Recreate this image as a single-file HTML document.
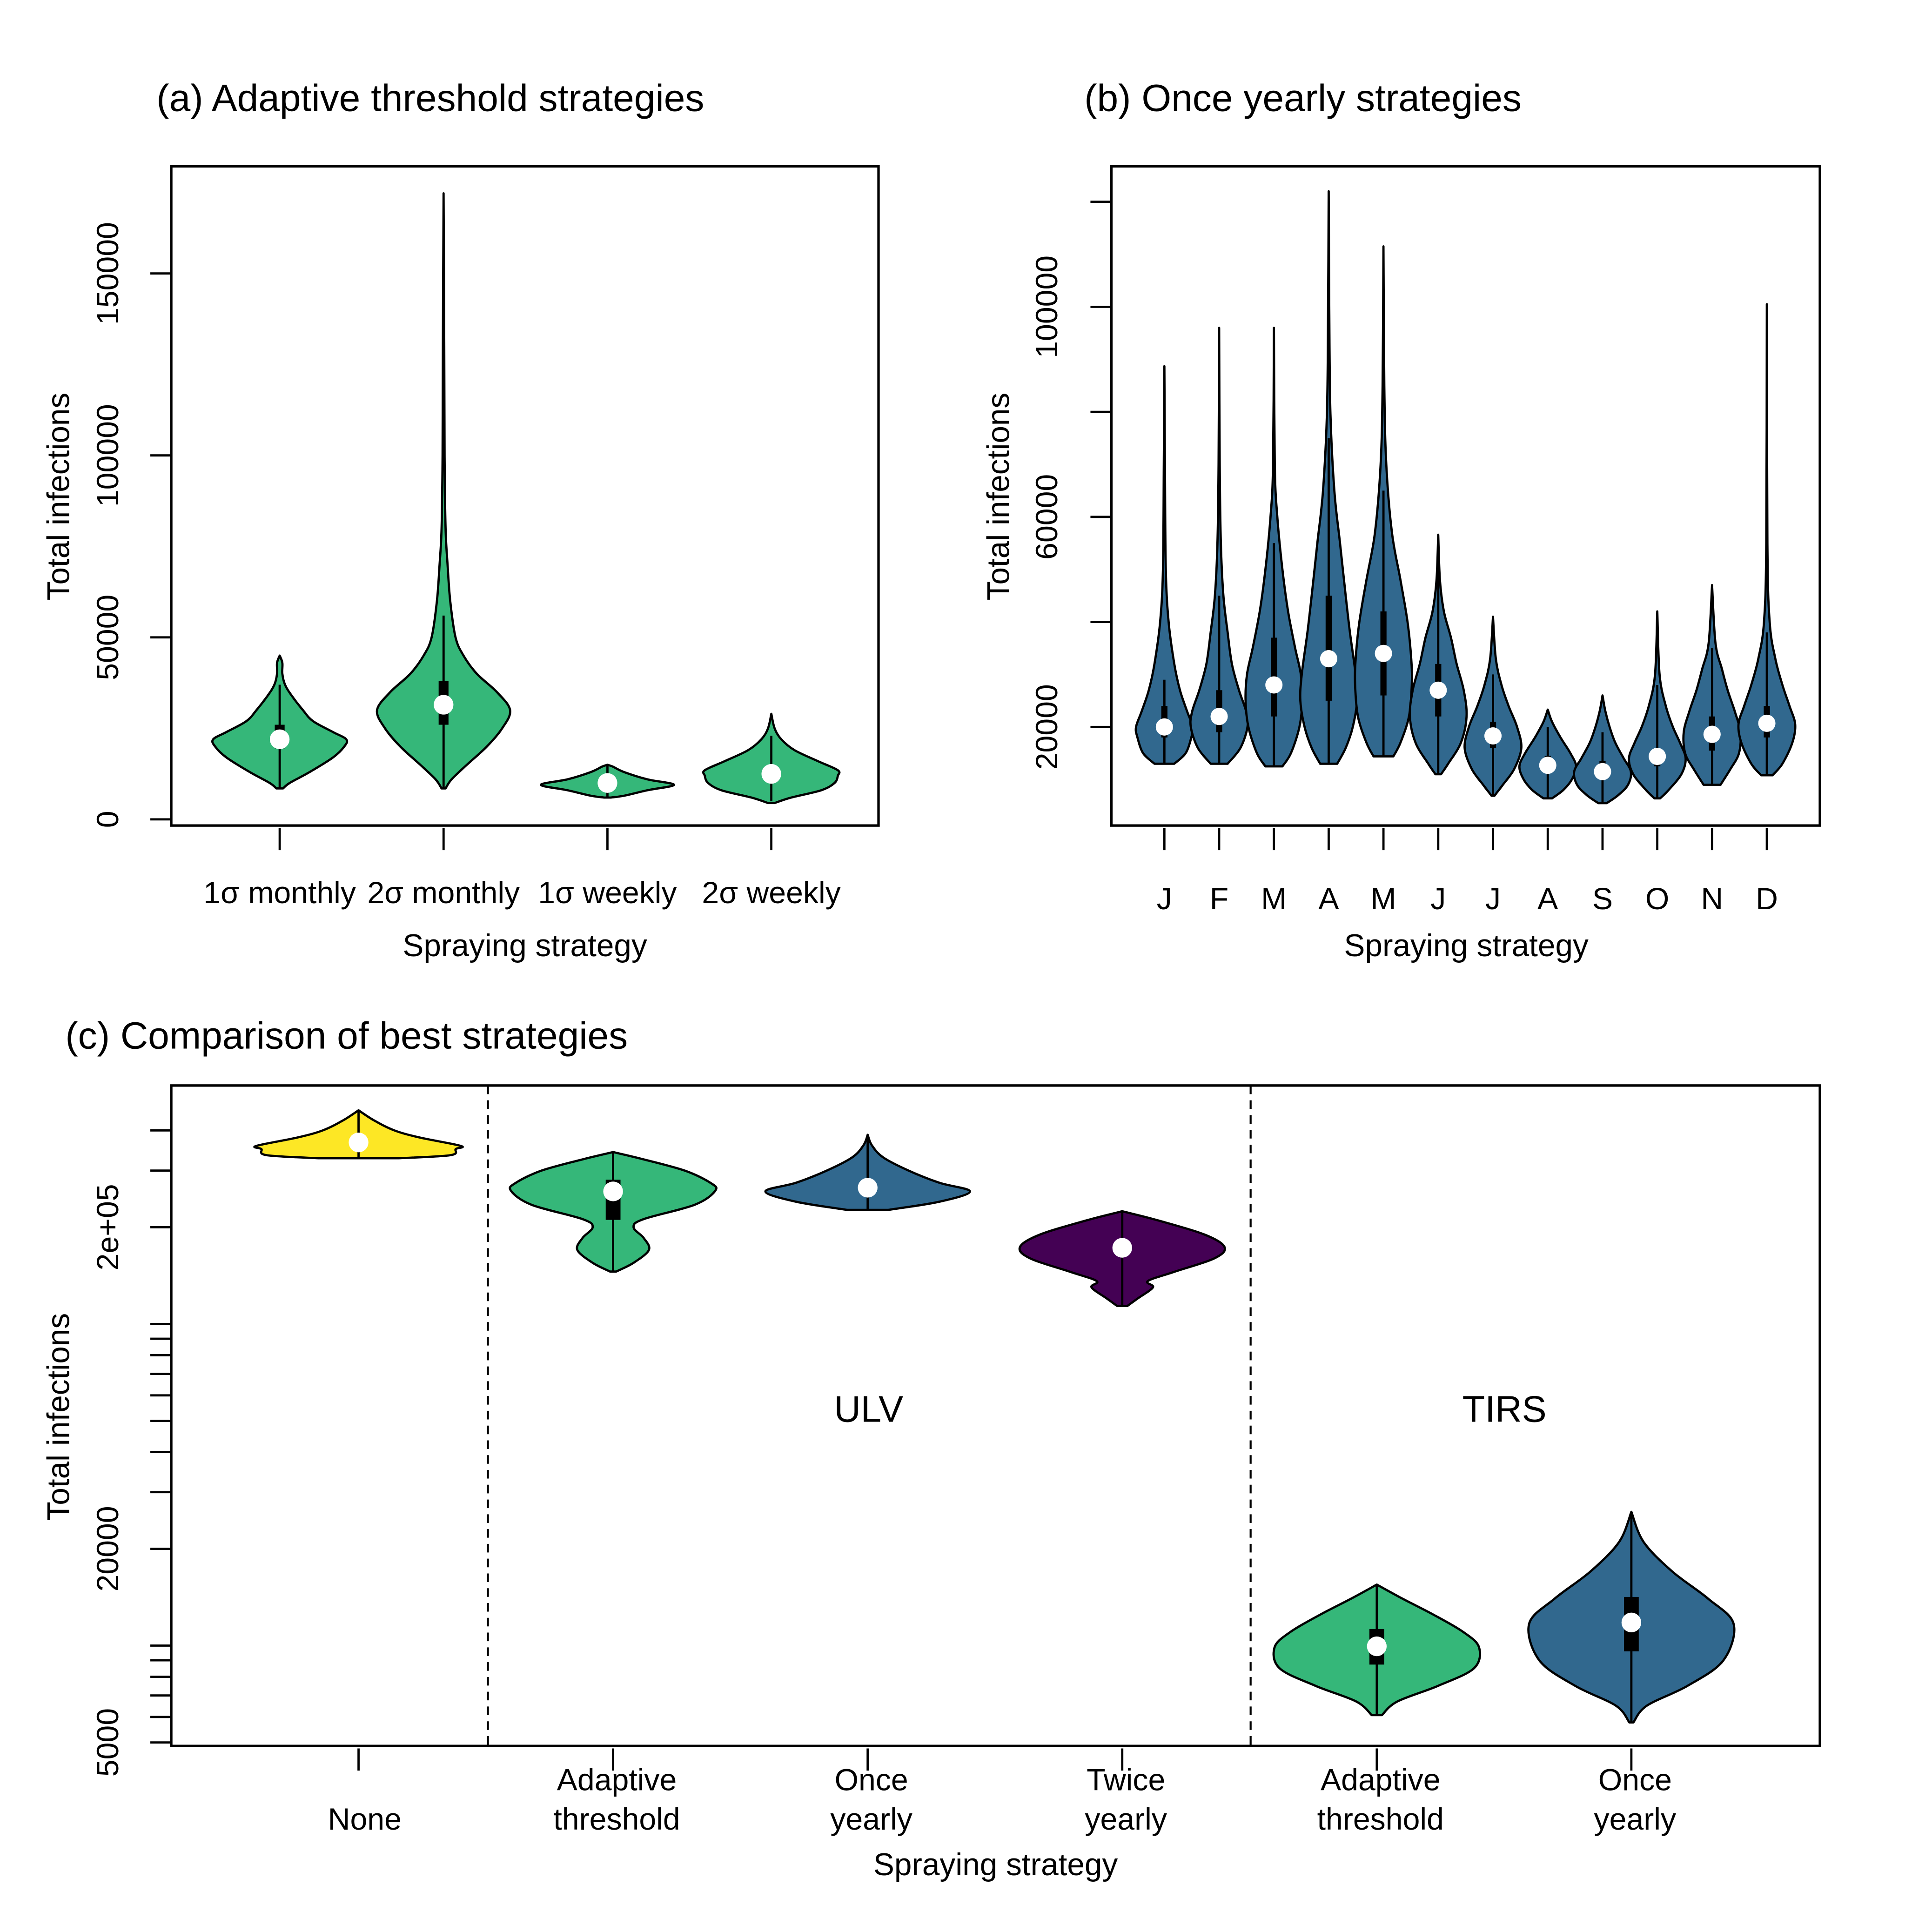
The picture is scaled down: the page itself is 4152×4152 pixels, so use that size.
<!DOCTYPE html>
<html><head><meta charset="utf-8"><style>
html,body{margin:0;padding:0;background:#fff}
svg{display:block}
text{font-family:"Liberation Sans",Arial,sans-serif;fill:#000}
</style></head><body>
<svg id="fig" width="4152" height="4152" viewBox="0 0 1568 1568" xmlns="http://www.w3.org/2000/svg">
<rect width="1568" height="1568" fill="#fff"/>
<g id="pa">
<text x="127" y="90" font-size="31">(a) Adaptive threshold strategies</text>
<rect x="139" y="135" width="574" height="535" fill="none" stroke="#000" stroke-width="2"/>
<text transform="translate(56,403) rotate(-90)" text-anchor="middle" font-size="25.5">Total infections</text>
<text x="426" y="776" text-anchor="middle" font-size="25.5">Spraying strategy</text>
</g>
<g id="pb">
<text x="880" y="90" font-size="31">(b) Once yearly strategies</text>
<rect x="902" y="135" width="575" height="535" fill="none" stroke="#000" stroke-width="2"/>
<text transform="translate(819,403) rotate(-90)" text-anchor="middle" font-size="25.5">Total infections</text>
<text x="1190" y="776" text-anchor="middle" font-size="25.5">Spraying strategy</text>
</g>
<g id="pc">
<text x="53" y="851" font-size="31">(c) Comparison of best strategies</text>
<rect x="139" y="881" width="1338" height="536" fill="none" stroke="#000" stroke-width="2"/>
<line x1="396" y1="881" x2="396" y2="1417" stroke="#000" stroke-width="1.6" stroke-dasharray="7,5"/>
<line x1="1015" y1="881" x2="1015" y2="1417" stroke="#000" stroke-width="1.6" stroke-dasharray="7,5"/>
<text x="705" y="1154" text-anchor="middle" font-size="30">ULV</text>
<text x="1221" y="1154" text-anchor="middle" font-size="30">TIRS</text>
<text transform="translate(56,1150) rotate(-90)" text-anchor="middle" font-size="25.5">Total infections</text>
<text x="808" y="1522" text-anchor="middle" font-size="25.5">Spraying strategy</text>
</g>
</svg>
<script>
// ---------- Panel A data ----------
const aCats = ["1σ monthly","2σ monthly","1σ weekly","2σ weekly"];
const aTicks = [0,50000,100000,150000];
const aVals = [
 [8500,10000,13000,17000,20000,22000,24000,27000,30000,34000,37000,40000,43000,45000],
 [8500,11000,15000,20000,25000,30000,35000,40000,45000,50000,60000,70000,80000,100000,130000,172000],
 [6000,6500,8000,9500,11000,13000,14500,15000],
 [4500,6000,8000,10000,12000,13500,16000,19000,22000,25000,29000]];
const aDens = [
 [0.05,0.15,0.45,0.8,0.97,1,0.8,0.5,0.35,0.18,0.08,0.04,0.04,0],
 [0.03,0.12,0.35,0.65,0.88,1,0.8,0.5,0.3,0.18,0.1,0.06,0.03,0.015,0.01,0],
 [0.05,0.25,0.6,1,0.6,0.25,0.08,0],
 [0.05,0.3,0.75,0.95,1,1,0.7,0.35,0.15,0.05,0]];
const aMed = [22000,31500,10000,12500];
const aQ1 = [19500,26000,9000,11000];
const aQ3 = [26000,38000,11000,14500];
const aWlo = [8500,8500,6000,5000];
const aWhi = [37000,56000,15000,23000];

// ---------- Panel B data ----------
const bCats = ["J","F","M","A","M","J","J","A","S","O","N","D"];
const bTicks = [20000,40000,60000,80000,100000,120000];
const bTickLabels = ["20000","","60000","","100000",""];
const bVals = [
 [13000,15000,18000,20000,23000,27000,32000,40000,50000,70000,88700],
 [13000,16000,20000,23000,27000,32000,38000,45000,55000,70000,96000],
 [12500,15000,20000,25000,30000,35000,42000,50000,60000,70000,96000],
 [13000,16000,20000,25000,30000,38000,45000,55000,65000,80000,100000,122000],
 [14400,17000,22000,28000,33000,40000,48000,57000,70000,85000,111500],
 [11000,13000,17000,22000,27000,32000,37000,42000,48000,56600],
 [6900,9000,12000,16000,20000,24000,28000,33000,41000],
 [6400,8000,10000,12500,15000,18000,21000,23300],
 [5500,7000,9000,11500,14000,17000,20000,23000,26000],
 [6400,8000,11000,14000,17000,20000,24000,30000,42000],
 [9000,12000,15000,19000,23000,27000,31000,36000,47000],
 [10800,13000,17000,20500,24000,28000,33000,40000,55000,100500]];
const bDens = [
 [0.35,0.75,0.95,1,0.8,0.55,0.35,0.15,0.05,0.02,0],
 [0.3,0.75,1,0.95,0.7,0.45,0.3,0.15,0.06,0.02,0],
 [0.3,0.6,0.9,1,0.95,0.75,0.5,0.3,0.12,0.03,0],
 [0.3,0.6,0.85,1,0.95,0.75,0.6,0.4,0.2,0.06,0.02,0],
 [0.35,0.6,0.9,1,0.98,0.85,0.6,0.3,0.1,0.03,0],
 [0.1,0.35,0.8,1,0.9,0.65,0.45,0.2,0.06,0],
 [0.05,0.35,0.75,1,0.85,0.55,0.3,0.1,0],
 [0.15,0.55,0.85,1,0.8,0.45,0.15,0],
 [0.15,0.55,0.9,1,0.75,0.45,0.25,0.1,0],
 [0.1,0.4,0.85,1,0.8,0.55,0.3,0.08,0],
 [0.3,0.65,0.95,1,0.8,0.55,0.35,0.12,0],
 [0.2,0.55,0.9,1,0.8,0.55,0.3,0.1,0.02,0]];
const bMed = [20000,22000,28000,33000,34000,27000,18300,12700,11500,14400,18600,20700];
const bQ1 = [18000,19000,22000,25000,26000,22000,16000,11500,10000,12500,15500,18000];
const bQ3 = [24000,27000,37000,45000,42000,32000,21000,14500,13500,16000,22000,24000];
const bWlo = [13000,13000,12500,13000,14400,11000,6900,6400,5500,6400,9000,10800];
const bWhi = [29000,45000,55000,75000,65000,50000,30000,20000,19000,28000,35000,38000];

// ---------- Panel C data ----------
const cCats = [["None"],["Adaptive","threshold"],["Once","yearly"],["Twice","yearly"],["Adaptive","threshold"],["Once","yearly"]];
const cColors = ["#fde725","#35b779","#31688e","#440154","#35b779","#31688e"];
const cMajor = [5000,20000,200000];
const cMajorLabels = ["5000","20000","2e+05"];
const cMinor = [6000,7000,8000,9000,10000,30000,40000,50000,60000,70000,80000,90000,100000,300000,400000];
const cVals = [
 [327800,335000,350000,358000,380000,400000,430000,462000],
 [145600,155000,170000,185000,200000,212000,235000,260000,275000,300000,325000,342600],
 [226400,240000,258400,275000,300000,330000,360000,387600],
 [113800,120000,130000,136000,145000,160000,173600,190000,210000,224200],
 [6080,6700,7500,8500,9870,11000,12500,14000,15480],
 [5770,6500,7500,9000,11680,14000,17000,21000,26060]];
const cDens = [
 [0.4,0.9,0.95,1,0.6,0.35,0.15,0],
 [0.03,0.2,0.35,0.3,0.2,0.3,0.8,1,0.95,0.7,0.3,0],
 [0.2,0.7,1,0.7,0.4,0.15,0.04,0],
 [0.05,0.15,0.3,0.25,0.5,0.9,1,0.8,0.35,0],
 [0.05,0.2,0.6,0.95,1,0.85,0.55,0.25,0],
 [0.02,0.15,0.55,0.9,1,0.75,0.4,0.12,0]];
const cMed = [367000,258400,265400,172600,9950,11800];
const cQ1 = [362000,210800,258000,166000,8730,9600];
const cQ3 = [372000,281000,272000,178000,11260,14170];
const cWlo = [327800,145600,226400,113800,6080,5770];
const cWhi = [462000,342600,387600,224200,15480,26060];

const NS="http://www.w3.org/2000/svg";
function mk(parent,tag,attrs){const e=document.createElementNS(NS,tag);for(const k in attrs)e.setAttribute(k,attrs[k]);parent.appendChild(e);return e;}

const yA = v => 665 - v*(147.7/50000);
const yB = v => 590 - (v-20000)*(85.25/20000);
const yC = v => 1257 - (Math.log10(v)-Math.log10(20000))*261;
const xA = i => 227 + i*133;
const xB = i => 945 + i*44.45;
const xC = i => 291 + i*206.6;

function smoothPath(pts){
  let d="M"+pts[0][0].toFixed(2)+","+pts[0][1].toFixed(2);
  for(let i=0;i<pts.length-1;i++){
    const p0=pts[Math.max(i-1,0)],p1=pts[i],p2=pts[i+1],p3=pts[Math.min(i+2,pts.length-1)];
    const c1=[p1[0]+(p2[0]-p0[0])/6,p1[1]+(p2[1]-p0[1])/6];
    const c2=[p2[0]-(p3[0]-p1[0])/6,p2[1]-(p3[1]-p1[1])/6];
    d+="C"+c1[0].toFixed(2)+","+c1[1].toFixed(2)+" "+c2[0].toFixed(2)+","+c2[1].toFixed(2)+" "+p2[0].toFixed(2)+","+p2[1].toFixed(2);
  }
  return d;
}
function violin(parent,name,cx,yf,vals,dens,hw,color,med,q1,q3,wlo,whi,boxW,dotR,lw){
  const g=mk(parent,"g",{});
  
  
  const right=vals.map((v,i)=>[cx+dens[i]*hw,yf(v)]);
  const left=vals.map((v,i)=>[cx-dens[i]*hw,yf(v)]).reverse();
  let d=smoothPath(right)+"L"+left[0][0].toFixed(2)+","+left[0][1].toFixed(2)+smoothPath(left).replace(/^M[^C]*/,"")+"Z";
  const body=mk(g,"path",{d:d,fill:color,stroke:"#000","stroke-width":lw,"stroke-linejoin":"round"});
  
  
  const wl=mk(g,"line",{x1:cx,x2:cx,y1:yf(wlo),y2:yf(whi),stroke:"#000","stroke-width":1.8});
  
  
  const bx=mk(g,"rect",{x:cx-boxW/2,y:yf(q3),width:boxW,height:Math.max(1,yf(q1)-yf(q3)),fill:"#000"});
  
  
  const dt=mk(g,"circle",{cx:cx,cy:yf(med),r:dotR,fill:"#fff"});
  
  
}

const pa=document.getElementById("pa");
aTicks.forEach(t=>{
  const l=mk(pa,"line",{x1:122,x2:139,y1:yA(t),y2:yA(t),stroke:"#000","stroke-width":1.8});
  
  
  const tx=mk(pa,"text",{transform:`translate(96,${yA(t)}) rotate(-90)`,"text-anchor":"middle","font-size":25});
  tx.textContent=String(t);
  
  
});
aCats.forEach((c,i)=>{
  const l=mk(pa,"line",{x1:xA(i),x2:xA(i),y1:672,y2:690,stroke:"#000","stroke-width":1.8});
  
  
  const tx=mk(pa,"text",{x:xA(i),y:733,"text-anchor":"middle","font-size":25});
  tx.textContent=c;
  
  
  violin(pa,"violin-a-"+i,xA(i),yA,aVals[i],aDens[i],54,"#35b779",aMed[i],aQ1[i],aQ3[i],aWlo[i],aWhi[i],8,8,1.8);
});

const pb=document.getElementById("pb");
bTicks.forEach((t,i)=>{
  const l=mk(pb,"line",{x1:885,x2:902,y1:yB(t),y2:yB(t),stroke:"#000","stroke-width":1.8});
  
  
  if(bTickLabels[i]){
    const tx=mk(pb,"text",{transform:`translate(858,${yB(t)}) rotate(-90)`,"text-anchor":"middle","font-size":25});
    tx.textContent=bTickLabels[i];
    
    
  }
});
bCats.forEach((c,i)=>{
  const l=mk(pb,"line",{x1:xB(i),x2:xB(i),y1:672,y2:690,stroke:"#000","stroke-width":1.8});
  
  
  const tx=mk(pb,"text",{x:xB(i),y:738,"text-anchor":"middle","font-size":25});
  tx.textContent=c;
  
  
  violin(pb,"violin-b-"+i,xB(i),yB,bVals[i],bDens[i],23,"#31688e",bMed[i],bQ1[i],bQ3[i],bWlo[i],bWhi[i],5,7,1.8);
});

const pc=document.getElementById("pc");
cMajor.forEach((t,i)=>{
  const l=mk(pc,"line",{x1:122,x2:139,y1:yC(t),y2:yC(t),stroke:"#000","stroke-width":1.8});
  
  
  const tx=mk(pc,"text",{transform:`translate(96,${yC(t)}) rotate(-90)`,"text-anchor":"middle","font-size":25});
  tx.textContent=cMajorLabels[i];
  
  
});
cMinor.forEach(t=>{
  const l=mk(pc,"line",{x1:122,x2:139,y1:yC(t),y2:yC(t),stroke:"#000","stroke-width":1.8});
  
  
});
cCats.forEach((c,i)=>{
  const l=mk(pc,"line",{x1:xC(i),x2:xC(i),y1:1419,y2:1437,stroke:"#000","stroke-width":1.8});
  
  
  c.forEach((line,j)=>{
    const yy = c.length===1 ? 1485 : 1453+j*32;
    const tx=mk(pc,"text",{x:xC(i)+(c.length===1?5:3),y:yy,"text-anchor":"middle","font-size":25});
    tx.textContent=line;
    
    
  });
  violin(pc,"violin-c-"+i,xC(i),yC,cVals[i],cDens[i],83,cColors[i],cMed[i],cQ1[i],cQ3[i],cWlo[i],cWhi[i],12,8,1.8);
});
</script>
</body></html>
